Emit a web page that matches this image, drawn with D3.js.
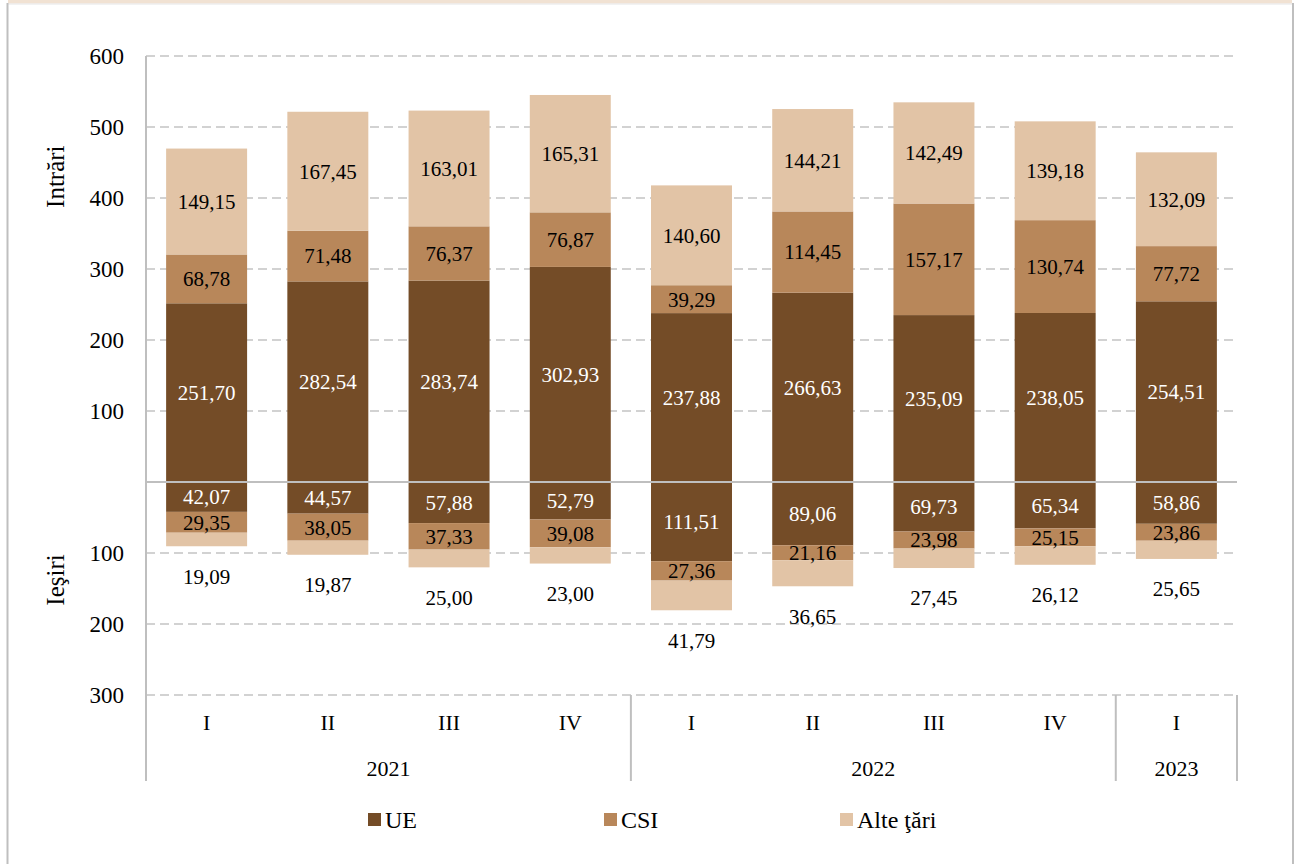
<!DOCTYPE html>
<html>
<head>
<meta charset="utf-8">
<script src="https://cdn.jsdelivr.net/npm/d3@7"></script>
<style>
  body { margin: 0; background: #fff; }
  svg text { font-family: "Liberation Serif", serif; fill: #000; }
</style>
</head>
<body>
<div id="chart"></div>
<script>
// quarters and years
const quarters = ['I', 'II', 'III', 'IV', 'I', 'II', 'III', 'IV', 'I'];
const years = [
    { label: '2021', from: 0, to: 4 },
    { label: '2022', from: 4, to: 8 },
    { label: '2023', from: 8, to: 9 }
];
const seriesNames = ['UE', 'CSI', 'Alte ţări'];
const seriesColors = ['#744c27', '#b8875a', '#e2c4a6'];

// Intrari (inflows)
const inUE = [251.70, 282.54, 283.74, 302.93, 237.88, 266.63, 235.09, 238.05, 254.51];
const inCSI = [68.78, 71.48, 76.37, 76.87, 39.29, 114.45, 157.17, 130.74, 77.72];
const inAlte = [149.15, 167.45, 163.01, 165.31, 140.60, 144.21, 142.49, 139.18, 132.09];

// Iesiri (outflows)
const outUE = [42.07, 44.57, 57.88, 52.79, 111.51, 89.06, 69.73, 65.34, 58.86];
const outCSI = [29.35, 38.05, 37.33, 39.08, 27.36, 21.16, 23.98, 25.15, 23.86];
const outAlte = [19.09, 19.87, 25.00, 23.00, 41.79, 36.65, 27.45, 26.12, 25.65];

const yTicks = [600, 500, 400, 300, 200, 100, -100, -200, -300];

const width = 1299;
const height = 864;

const svg = d3.select('#chart').append('svg')
    .attr('width', width)
    .attr('height', height);

// frame bits
svg.append('rect').attr('x', 8).attr('y', 0).attr('width', 1284).attr('height', 3.5).attr('fill', '#f1e2d3');
svg.append('line').attr('x1', 8).attr('x2', 1292).attr('y1', 4).attr('y2', 4).attr('stroke', '#e6e6e6').attr('stroke-width', 1);
svg.append('line').attr('x1', 7.5).attr('x2', 7.5).attr('y1', 3).attr('y2', height).attr('stroke', '#bfbfbf').attr('stroke-width', 2);
svg.append('line').attr('x1', 1293).attr('x2', 1293).attr('y1', 3).attr('y2', height).attr('stroke', '#bfbfbf').attr('stroke-width', 2);

const x = d3.scaleBand()
    .domain(d3.range(quarters.length))
    .range([146, 1237])
    .paddingInner(0.332)
    .paddingOuter(0.166);

const y = d3.scaleLinear()
    .domain([-300, 600])
    .range([695, 56]);

// gridlines
svg.append('g').selectAll('line')
    .data(yTicks)
    .enter().append('line')
    .attr('x1', 146).attr('x2', 1234)
    .attr('y1', d => y(d)).attr('y2', d => y(d))
    .attr('stroke', '#c4c4c4')
    .attr('stroke-width', 1.5)
    .attr('stroke-dasharray', '9,5');

// tick labels
svg.append('g').selectAll('text')
    .data(yTicks)
    .enter().append('text')
    .attr('x', 124)
    .attr('y', d => y(d))
    .attr('dy', '0.35em')
    .attr('text-anchor', 'end')
    .style('font-size', '23px')
    .text(d => Math.abs(d));

// stacked segments
const inSeries = [inUE, inCSI, inAlte];
const outSeries = [outUE, outCSI, outAlte];

function segments(series, sign) {
    const segs = [];
    quarters.forEach((q, i) => {
        let base = 0;
        series.forEach((vals, k) => {
            const v = vals[i];
            segs.push({ i, k, v, y0: base, y1: base + sign * v });
            base += sign * v;
        });
    });
    return segs;
}

const inSegs = segments(inSeries, 1);
const outSegs = segments(outSeries, -1);
const allSegs = inSegs.concat(outSegs);

svg.append('g').selectAll('rect')
    .data(allSegs)
    .enter().append('rect')
    .attr('x', d => x(d.i))
    .attr('width', x.bandwidth())
    .attr('y', d => y(Math.max(d.y0, d.y1)))
    .attr('height', d => Math.abs(y(d.y0) - y(d.y1)))
    .attr('fill', d => seriesColors[d.k]);

// zero line
svg.append('line')
    .attr('x1', 146).attr('x2', 1237)
    .attr('y1', y(0)).attr('y2', y(0))
    .attr('stroke', '#bfbfbf')
    .attr('stroke-width', 2);

const fmt = v => v.toFixed(2).replace('.', ',');

// labels inside bars (all inflows, UE and CSI outflows)
const inside = inSegs.concat(outSegs.filter(d => d.k < 2));
svg.append('g').selectAll('text')
    .data(inside)
    .enter().append('text')
    .attr('x', d => x(d.i) + x.bandwidth() / 2)
    .attr('y', d => y((d.y0 + d.y1) / 2))
    .attr('dy', '0.35em')
    .attr('text-anchor', 'middle')
    .style('font-size', '21px')
    .style('fill', d => d.k === 0 ? '#fff' : '#000')
    .text(d => fmt(d.v));

// outflow "Alte tari" labels under the bars
svg.append('g').selectAll('text')
    .data(outSegs.filter(d => d.k === 2))
    .enter().append('text')
    .attr('x', d => x(d.i) + x.bandwidth() / 2)
    .attr('y', d => y(d.y1) + 30)
    .attr('dy', '0.35em')
    .attr('text-anchor', 'middle')
    .style('font-size', '21px')
    .text(d => fmt(d.v));

// axis lines and category separators
svg.append('line')
    .attr('x1', 146).attr('x2', 146)
    .attr('y1', 56).attr('y2', 781)
    .attr('stroke', '#bfbfbf').attr('stroke-width', 2);

const sepIdx = [4, 8, 9];
svg.append('g').selectAll('line')
    .data(sepIdx)
    .enter().append('line')
    .attr('x1', d => x.step() * d + 146).attr('x2', d => x.step() * d + 146)
    .attr('y1', 695).attr('y2', 781)
    .attr('stroke', '#bfbfbf').attr('stroke-width', 2);

// quarter labels
svg.append('g').selectAll('text')
    .data(quarters)
    .enter().append('text')
    .attr('x', (d, i) => x(i) + x.bandwidth() / 2)
    .attr('y', 722)
    .attr('dy', '0.35em')
    .attr('text-anchor', 'middle')
    .style('font-size', '22px')
    .text(d => d);

// year labels
svg.append('g').selectAll('text')
    .data(years)
    .enter().append('text')
    .attr('x', d => 146 + x.step() * (d.from + d.to) / 2)
    .attr('y', 768)
    .attr('dy', '0.35em')
    .attr('text-anchor', 'middle')
    .style('font-size', '22px')
    .text(d => d.label);

// axis titles
svg.append('text')
    .attr('transform', 'translate(55,' + y(430) + ') rotate(-90)')
    .attr('dy', '0.35em')
    .attr('text-anchor', 'middle')
    .style('font-size', '25px')
    .text('Intrări');

svg.append('text')
    .attr('transform', 'translate(55,' + y(-138) + ') rotate(-90)')
    .attr('dy', '0.35em')
    .attr('text-anchor', 'middle')
    .style('font-size', '25px')
    .text('Ieşiri');

// legend
const legend = svg.append('g').selectAll('g')
    .data(seriesNames)
    .enter().append('g')
    .attr('transform', (d, i) => 'translate(' + (368 + i * 236) + ',820)');

legend.append('rect')
    .attr('x', 0).attr('y', -7)
    .attr('width', 13).attr('height', 13)
    .attr('fill', (d, i) => seriesColors[i]);

legend.append('text')
    .attr('x', 17)
    .attr('y', 0)
    .attr('dy', '0.35em')
    .style('font-size', '24px')
    .text(d => d);
</script>
</body>
</html>
